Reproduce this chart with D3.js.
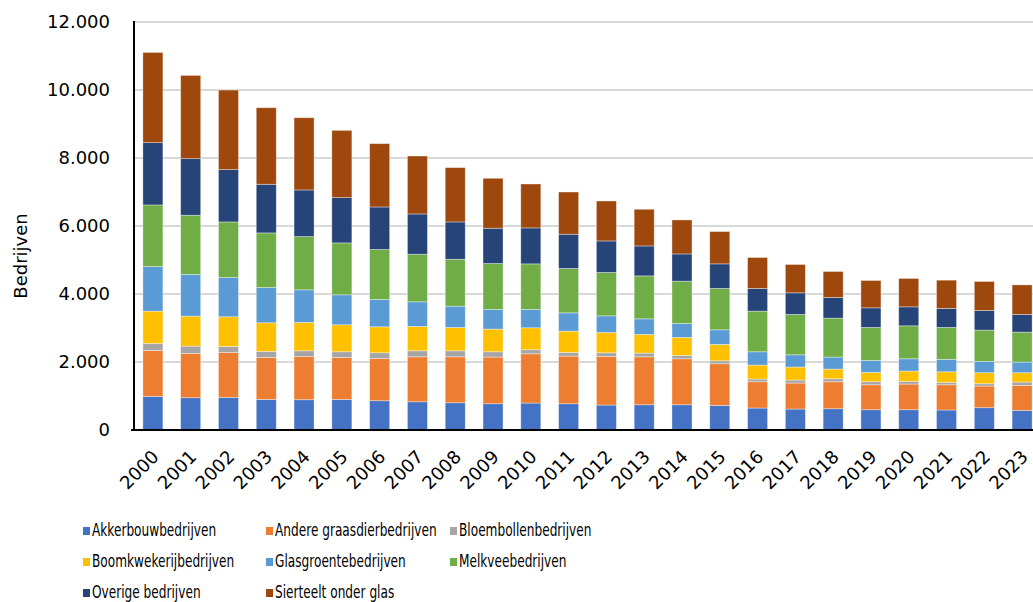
<!DOCTYPE html>
<html><head><meta charset="utf-8">
<script src="https://cdn.jsdelivr.net/npm/d3@7"></script>
<style>
html,body{margin:0;padding:0;background:#fff;}
svg{display:block;font-family:"DejaVu Sans",Verdana,sans-serif;}
</style></head>
<body><svg id="chart" width="1033" height="602"></svg>
<script>
const years = ["2000","2001","2002","2003","2004","2005","2006","2007","2008","2009","2010","2011","2012","2013","2014","2015","2016","2017","2018","2019","2020","2021","2022","2023"];
const seriesNames = ["Akkerbouwbedrijven","Andere graasdierbedrijven","Bloembollenbedrijven","Boomkwekerijbedrijven","Glasgroentebedrijven","Melkveebedrijven","Overige bedrijven","Sierteelt onder glas"];
const akkerbouw    = [990,950,960,900,891,900,861,831,802,773,793,773,734,743,743,724,646,617,626,597,597,588,656,578];
const andere       = [1350,1303,1322,1235,1273,1235,1245,1322,1351,1372,1449,1401,1431,1410,1352,1224,774,764,793,734,754,743,637,734];
const bloembollen  = [206,215,176,176,166,166,165,177,177,156,118,108,106,109,99,88,78,88,88,88,79,70,68,98];
const boomkwekerij = [950,881,872,842,833,794,764,716,686,666,646,626,599,549,529,482,412,382,285,276,303,312,323,274];
const glasgroente  = [1312,1225,1155,1038,959,881,804,723,627,578,539,538,488,459,411,429,391,361,353,352,362,364,334,314];
const melkvee      = [1811,1742,1635,1606,1567,1527,1469,1401,1380,1351,1341,1304,1275,1263,1243,1216,1195,1187,1145,969,969,939,920,881];
const overige      = [1833,1665,1538,1430,1371,1332,1252,1185,1097,1038,1058,1008,928,881,802,723,667,635,608,577,558,559,578,520];
const sierteelt    = [2653,2448,2340,2252,2125,1978,1862,1703,1597,1469,1292,1243,1175,1078,999,951,910,834,764,805,835,832,852,869];
const yTicks = [0,2000,4000,6000,8000,10000,12000];
const colors = ["#4472C4","#ED7D31","#A5A5A5","#FFC000","#5B9BD5","#70AD47","#264478","#9E480E"];

(function(){
const seriesValues = [akkerbouw, andere, bloembollen, boomkwekerij, glasgroente, melkvee, overige, sierteelt];
const rows = years.map((yr,i)=>{const r={year:yr}; seriesNames.forEach((n,k)=>r[n]=seriesValues[k][i]); return r;});
const stacked = d3.stack().keys(seriesNames)(rows);

const svg = d3.select("#chart");
const pLeft = 134, pRight = 1041, pTop = 22, pBottom = 430;
const x = d3.scaleBand().domain(years).range([pLeft,pRight]).paddingInner(0.47).paddingOuter(0.235);
const y = d3.scaleLinear().domain([0,12000]).range([pBottom,pTop]);
const loc = d3.formatLocale({decimal:",",thousands:".",grouping:[3],currency:["",""]});
const fmt = loc.format(",");

// gridlines
svg.append("g").selectAll("line").data(yTicks.filter(t=>t>0)).join("line")
  .attr("x1",pLeft).attr("x2",1033).attr("y1",d=>y(d)).attr("y2",d=>y(d))
  .attr("stroke","#d9d9d9").attr("stroke-width",2);

// bars
svg.append("g").selectAll("g").data(stacked).join("g")
  .attr("fill",(d,i)=>colors[i])
  .selectAll("rect").data(d=>d).join("rect")
  .attr("x",d=>x(d.data.year)).attr("width",x.bandwidth())
  .attr("y",d=>y(d[1])).attr("height",d=>y(d[0])-y(d[1]))
  .attr("stroke","rgba(255,255,255,0.45)").attr("stroke-width",0.8);

// y axis
const yAxis = svg.append("g").attr("transform",`translate(${pLeft},0)`)
  .call(d3.axisLeft(y).tickValues(yTicks).tickFormat(fmt).tickSize(0).tickPadding(24));
yAxis.select(".domain").remove();
yAxis.selectAll("text").attr("font-size",18).attr("fill","#000").attr("font-family","DejaVu Sans, Verdana, sans-serif");
svg.append("line").attr("x1",pLeft).attr("x2",pLeft).attr("y1",pTop-1).attr("y2",pBottom+1).attr("stroke","#000").attr("stroke-width",2);

// x axis
const xAxis = svg.append("g").attr("transform",`translate(0,${pBottom})`)
  .call(d3.axisBottom(x).tickSize(0).tickPadding(0));
xAxis.select(".domain").remove();
xAxis.selectAll("text")
  .attr("font-size",18).attr("fill","#000").attr("font-family","DejaVu Sans, Verdana, sans-serif")
  .attr("text-anchor","end").attr("dy",0).attr("y",0)
  .attr("transform","translate(7,28) rotate(-45)");
svg.append("line").attr("x1",pLeft-3).attr("x2",1033).attr("y1",pBottom).attr("y2",pBottom).attr("stroke","#000").attr("stroke-width",2);

// y title
svg.append("text").attr("transform","translate(27,256) rotate(-90)")
  .attr("text-anchor","middle").attr("font-size",18).attr("fill","#000").text("Bedrijven");

// legend
const colX = [83,266,450];
const rowY = [536,567,598];
const leg = svg.append("g").selectAll("g").data(seriesNames).join("g")
  .attr("transform",(d,i)=>`translate(${colX[i%3]},${rowY[Math.floor(i/3)]})`);
leg.append("rect").attr("x",0).attr("y",-9).attr("width",7).attr("height",8).attr("fill",(d,i)=>colors[i]);
leg.append("text").attr("transform","translate(9,0) scale(0.675,1)")
  .attr("font-size",18).attr("fill","#000").text(d=>d);
})();
</script>
</body></html>
